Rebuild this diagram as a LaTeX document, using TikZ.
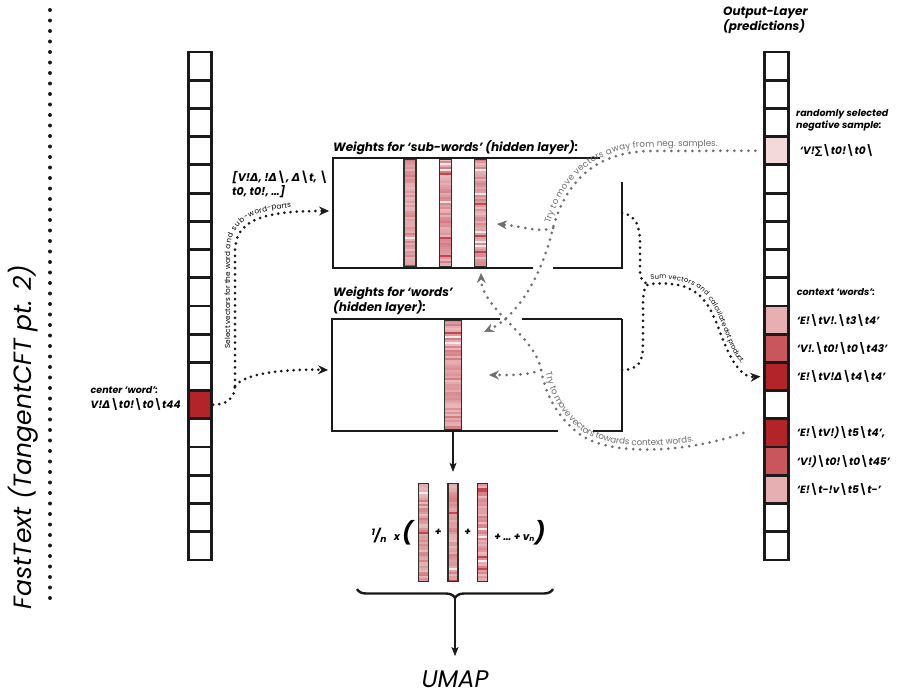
\documentclass[tikz,border=0pt]{standalone}
\usepackage{fontspec}
\setmainfont{Poppins}
\newfontfamily\symfont{DejaVu Sans}
\usetikzlibrary{
  arrows.meta,
  calc,
  decorations.pathreplacing,
  decorations.text,
  positioning
}
\definecolor{ink}{HTML}{1A1A1A}
\definecolor{ctxdark}{HTML}{B3232A}
\definecolor{ctxmid}{HTML}{C9565C}
\definecolor{ctxlight}{HTML}{E6AFB2}
\definecolor{negpink}{HTML}{F2DADB}
\definecolor{vecred}{HTML}{B82430}
\definecolor{vecbase}{HTML}{DB8F96}
\definecolor{vecedge}{HTML}{2A352A}
\definecolor{dotgrey}{HTML}{6E6E6E}

\newcommand{\bs}{{\upshape\textbackslash}}
\newcommand{\Dt}{{\symfont Δ}}
\newcommand{\Sg}{{\symfont ∑}}
\newcommand{\tinytxt}{\fontsize{7.3}{9}\selectfont}
\newcommand{\sumtxt}{\fontsize{6.7}{8}\selectfont}
\newcommand{\greytxt}{\fontsize{8.8}{10}\selectfont\color{dotgrey}}
\newcommand{\vecnoise}{%
  \foreach \k in {0,...,57} {
    \pgfmathsetmacro{\rv}{rnd}
    \pgfmathsetmacro{\mixv}{\rv>0.95 ? 85 : (\rv<0.02 ? 10 : 32+28*rnd)}
    \fill[vecred!\mixv!white]
      ($(path picture bounding box.north west)+(0,2*\k)$) rectangle ++(30,2.8);
  }%
}

\tikzset{
  cell/.style={
    draw=ink,
    line width=2.8pt,
    minimum width=23.5pt,
    minimum height=28.22pt,
    inner sep=0pt
  },
  wbox/.style={inner sep=0pt, outer sep=0pt},
  vecbar/.style={
    draw=vecedge,
    line width=1.3pt,
    fill=vecbase,
    inner sep=0pt,
    path picture={\vecnoise}
  },
  boxline/.style={draw=ink, line width=2.4pt},
  sepdots/.style={draw=ink, line width=4pt, line cap=round,
    dash pattern=on 0pt off 10.5pt},
  dotline/.style={draw=ink, line width=3pt, line cap=round,
    dash pattern=on 0pt off 6.2pt},
  dotarrow/.style={dotline,
    -{Stealth[length=10pt, width=9pt, inset=3.5pt, line width=0.5pt]}},
  greyline/.style={dotline, draw=dotgrey, dash pattern=on 0pt off 7pt},
  greyarrow/.style={greyline,
    -{Stealth[length=10pt, width=9pt, inset=3.5pt, line width=0.5pt]}},
  arrow/.style={draw=ink, line width=2pt,
    -{Stealth[length=9pt, width=7pt, inset=2pt, line width=0.5pt]}},
  headtxt/.style={font=\bfseries\itshape\fontsize{12}{15}\selectfont,
    inner sep=0pt, align=left},
  itemtxt/.style={font=\bfseries\itshape\fontsize{10.5}{12}\selectfont,
    inner sep=0pt, align=left},
  notetxt/.style={font=\bfseries\itshape\fontsize{9.5}{12}\selectfont,
    inner sep=0pt, align=left}
}

\begin{document}
\begin{tikzpicture}[x=1pt, y=-1pt]
  \useasboundingbox (0,0) rectangle (897,696);
  \pgfmathsetseed{11}

  % title and separator
  \node[rotate=90, font=\itshape\fontsize{25}{30}\selectfont] (title)
    at (23,437) {FastText (TangentCFT pt. 2)};
  \draw[sepdots] (50,10) -- (50,608);

  % input and output columns
  \foreach \c [count=\i] in {white,white,white,white,white,white,white,white,
      white,white,white,white,ctxdark,white,white,white,white,white}
    \node[cell, fill=\c] (L\i) at (200,{52+28.22*(\i-0.5)}) {};
  \foreach \c [count=\i] in {white,white,white,negpink,white,white,white,white,
      white,ctxlight,ctxmid,ctxdark,white,ctxdark,ctxmid,ctxlight,white,white}
    \node[cell, fill=\c] (R\i) at (776.5,{52+28.22*(\i-0.5)}) {};

  % hidden layers
  \node[wbox, minimum width=289pt, minimum height=110pt] (subw) at (477.5,213) {};
  \node[wbox, minimum width=290pt, minimum height=112pt] (words) at (477,375) {};
  \node[vecbar, minimum width=12pt, minimum height=108pt] (sv1) at (410,213) {};
  \node[vecbar, minimum width=12pt, minimum height=108pt] (sv2) at (445.5,213) {};
  \node[vecbar, minimum width=12pt, minimum height=108pt] (sv3) at (480.5,213) {};
  \node[vecbar, minimum width=16.5pt, minimum height=110pt] (wvec) at (453,375) {};

  \draw[boxline] ([xshift=267pt]subw.north west) -- (subw.north west)
    -- (subw.south west) -- ([xshift=200pt]subw.south west);
  \draw[boxline] ([xshift=220pt]subw.south west) -- (subw.south east)
    -- ([yshift=86pt]subw.south east);
  \draw[boxline] (words.north east) -- (words.south east)
    -- ([xshift=-29pt]words.south east);
  \draw[boxline] ([xshift=-64pt]words.south east) -- (words.south west)
    -- (words.north west) -- ([xshift=168pt]words.north west);
  \draw[boxline] ([xshift=190pt]words.north west) -- (words.north east);

  \node[headtxt, anchor=base west] (subwhead) at (333,151)
    {Weights for ‘sub-words’ (hidden layer):};
  \node[headtxt, anchor=south west] (wordshead) at (333,315)
    {Weights for ‘words’\\(hidden layer):};
  \node[headtxt, font=\bfseries\itshape\fontsize{11}{14}\selectfont,
    anchor=north west] (partslist) at (232,171)
    {[V!\Dt, !\Dt\bs, \Dt\bs t, \bs\\t0, t0!, …]};

  % labels at the columns
  \node[headtxt, anchor=north west] (outhead) at (723,7)
    {Output-Layer\\(predictions)};
  \node[notetxt, anchor=north west] (neghead) at (796,109)
    {randomly selected\\negative sample:};
  \node[itemtxt, anchor=west] (negword) at ([xshift=10pt]R4.east)
    {‘V!\Sg\bs t0!\bs t0\bs};
  \node[notetxt, anchor=west] (ctxhead) at ([xshift=7pt]R9.east)
    {context ‘words’:};
  \foreach \i/\w in {10/{‘E!\bs tV!.\bs t3\bs t4’}, 11/{‘V!.\bs t0!\bs t0\bs t43’},
      12/{‘E!\bs tV!\Dt\bs t4\bs t4’}, 14/{‘E!\bs tV!)\bs t5\bs t4’,},
      15/{‘V!)\bs t0!\bs t0\bs t45’}, 16/{‘E!\bs t-!v\bs t5\bs t-’}}
    \node[itemtxt, anchor=west] (ctx\i) at ([xshift=7pt]R\i.east) {\w};
  \node[itemtxt, anchor=east] (ctrword) at ([xshift=-6pt]L13.west)
    {V!\Dt\bs t0!\bs t0\bs t44};
  \node[notetxt, above=5pt of ctrword.north west, anchor=south west] (ctrhead)
    {center ‘word’:};

  % selecting the vectors
  \coordinate (split) at (235,386);
  \draw[dotline] (L13.east) .. controls (226,405) and (235,398) .. (split);
  \draw[dotarrow] (split) -- (235,252) .. controls (235,220) and (262,211)
    .. ([xshift=-4pt,yshift=2pt]subw.west);
  \draw[dotarrow] (split) .. controls (246,372) and (290,369)
    .. ([xshift=-4pt,yshift=5pt]words.west);
  \path[decorate, decoration={text along path, text align=center, raise=5pt,
      text={|\tinytxt|Select vectors for the word and sub-word-parts}}]
    (split) -- (235,252) .. controls (235,220) and (262,211)
    .. ([xshift=-4pt,yshift=2pt]subw.west);

  % dot product with the context words
  \coordinate (sumjoin) at (650,284);
  \draw[dotline] (subw.east) .. controls (637,215) and (640,228) .. (640,245)
    -- (640,270) .. controls (640,280) and (644,284) .. (sumjoin);
  \draw[dotarrow] ([yshift=5pt]words.east) .. controls (638,370) and (643,362)
    .. (643,345) -- (643,305) .. controls (643,290) and (645,284) .. (sumjoin)
    .. controls (698,280) and (708,300) .. (720,332)
    .. controls (731,362) and (742,378) .. ([xshift=-3pt]R12.west);
  \path[decorate, decoration={text along path, text align={left, left indent=1pt},
      raise=4.5pt, text={|\sumtxt|Sum vectors and calculate dot product.}}]
    (sumjoin) .. controls (698,280) and (708,300) .. (720,332)
    .. controls (731,362) and (742,378) .. ([xshift=-3pt]R12.west);

  % away from the negative sample
  \coordinate (awayjoin) at (553,228);
  \coordinate (subin) at (497,224);
  \coordinate (wordsin1) at (484,332);
  \draw[greyarrow] ([xshift=-8pt]R4.west) -- (650,151)
    .. controls (592,152) and (565,185) .. (awayjoin)
    .. controls (542,275) and (518,316) .. (wordsin1);
  \draw[greyarrow] (awayjoin) .. controls (540,233) and (520,226) .. (subin);
  \path[decorate, decoration={text along path, text align={left, left indent=3pt},
      raise=4pt, text={|\greytxt|Try to move vectors away from neg. samples.}}]
    (awayjoin) .. controls (565,185) and (592,152) .. (650,151)
    -- ([xshift=-8pt]R4.west);

  % towards the context words
  \coordinate (towardjoin) at (541,370);
  \coordinate (subup) at (481,273);
  \coordinate (wordsin2) at (489,375);
  \draw[greyarrow] ([xshift=-20pt]R14.west) .. controls (690,452) and (610,458)
    .. (578,433) .. controls (556,415) and (546,395) .. (towardjoin)
    .. controls (535,335) and (482,310) .. (subup);
  \draw[greyarrow] (towardjoin) .. controls (525,376) and (507,375) .. (wordsin2);
  \path[decorate, decoration={text along path, text align={left, left indent=4pt},
      raise=4pt, text={|\greytxt|Try to move vectors towards context words.}}]
    (towardjoin) .. controls (546,395) and (556,415) .. (578,433)
    .. controls (610,458) and (690,452) .. ([xshift=-20pt]R14.west);

  % averaging the word vectors
  \node[vecbar, minimum width=10pt, minimum height=98pt] (fv1) at (423.5,532.5) {};
  \node[vecbar, minimum width=10pt, minimum height=98pt] (fv2) at (453,532.5) {};
  \node[vecbar, minimum width=10pt, minimum height=98pt] (fv3) at (482.5,532.5) {};
  \draw[arrow] (wvec.south) -- ([yshift=11pt]fv2.north);
  \node[itemtxt, anchor=east] (scale) at ([xshift=-5pt]fv1.west)
    {{\fontsize{13}{13}\selectfont\textsuperscript{1}\kern-1pt/\textsubscript{n}}%
     \hspace{7pt}x\hspace{2pt}{\fontsize{22}{22}\selectfont(}};
  \node[itemtxt] (plus1) at ($(fv1.east)!0.5!(fv2.west)$) {+};
  \node[itemtxt] (plus2) at ($(fv2.east)!0.5!(fv3.west)$) {+};
  \node[itemtxt, anchor=west] (tail) at ([xshift=6pt]fv3.east)
    {+ … + v\textsubscript{n}{\fontsize{22}{22}\selectfont)}};

  \coordinate (braceL) at (357,589);
  \coordinate (braceR) at (553,589);
  \coordinate (bracetip) at (455,599);
  \draw[boxline, decorate, decoration={brace, mirror, amplitude=9pt}]
    (braceL) -- (braceR);
  \node[font=\itshape\fontsize{24}{26}\selectfont, anchor=base, inner sep=0pt]
    (umap) at (455,687) {UMAP};
  \draw[arrow] (bracetip) -- ([yshift=14pt]umap.north);
\end{tikzpicture}
\end{document}
